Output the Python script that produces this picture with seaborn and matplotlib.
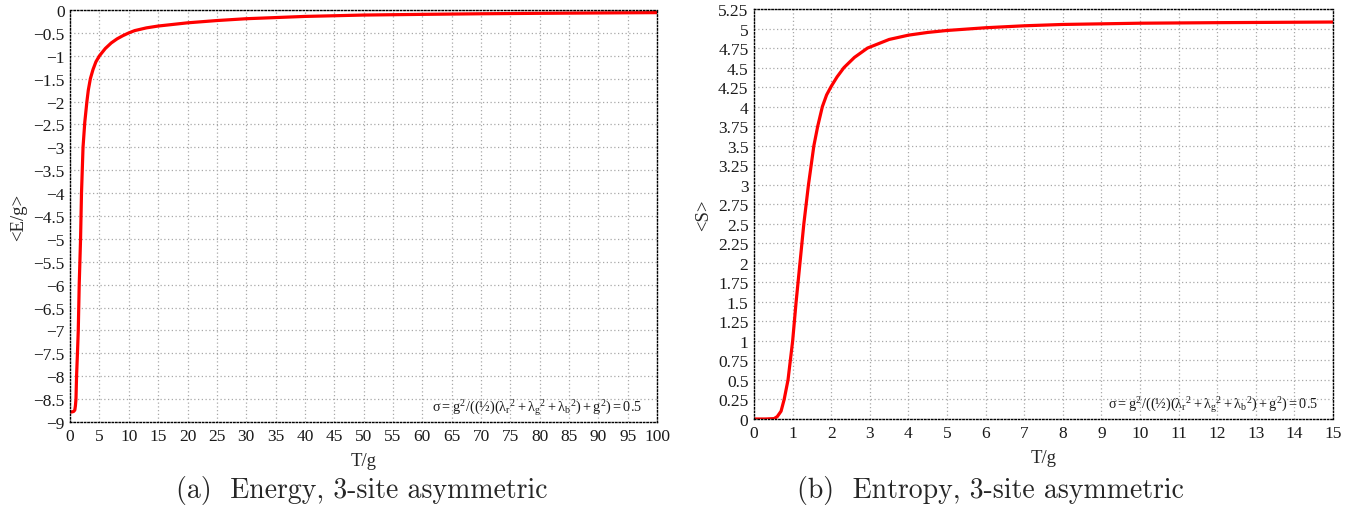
import numpy as np
import pandas as pd
import matplotlib
matplotlib.use("Agg")
import matplotlib.pyplot as plt
import seaborn as sns

# Mean energy vs temperature (3-site asymmetric)
t_energy = [0, 0.3, 0.6, 0.8, 0.9, 1.0, 1.1, 1.25, 1.39, 1.55, 1.78, 1.94, 2.2, 2.5,
            2.86, 3.1, 3.45, 3.9, 4.4, 5.0, 6, 7, 8, 9, 10, 11, 13, 15, 20, 25,
            30, 40, 50, 60, 70, 80, 90, 100]
e_energy = [-8.78, -8.78, -8.77, -8.74, -8.65, -8.5, -8.0, -7.5, -7.0, -6.0, -5.0,
            -4.0, -3.0, -2.45, -2.0, -1.75, -1.5, -1.3, -1.13, -1.0, -0.84, -0.72,
            -0.63, -0.56, -0.5, -0.45, -0.39, -0.35, -0.28, -0.23, -0.19, -0.14,
            -0.11, -0.095, -0.082, -0.072, -0.064, -0.057]

# Mean entropy vs temperature (3-site asymmetric)
t_entropy = [0, 0.3, 0.52, 0.6, 0.7, 0.78, 0.88, 0.94, 1.0, 1.09, 1.19, 1.29, 1.41,
             1.55, 1.65, 1.77, 1.88, 2.0, 2.15, 2.33, 2.6, 2.94, 3.5, 4, 4.5, 5, 6,
             7, 8, 10, 12, 15]
s_entropy = [0, 0, 0.005, 0.03, 0.1, 0.25, 0.5, 0.75, 1.0, 1.5, 2.0, 2.5, 3.0, 3.5,
             3.75, 4.0, 4.15, 4.26, 4.38, 4.5, 4.63, 4.75, 4.86, 4.915, 4.95, 4.975,
             5.01, 5.035, 5.052, 5.068, 5.075, 5.083]

energy_xticks = list(range(0, 101, 5))
energy_yticks = [-9 + 0.5 * i for i in range(19)]
entropy_xticks = list(range(0, 16))
entropy_yticks = [0.25 * i for i in range(22)]

annotation = r"$σ = g^2/((½)(λ_r{}^2 + λ_g{}^2 + λ_b{}^2) + g^2) = 0.5$"
captions = ["(a)  Energy, 3-site asymmetric", "(b)  Entropy, 3-site asymmetric"]

sns.set_style("white")
plt.rcParams["font.family"] = ["Liberation Serif", "DejaVu Serif"]
plt.rcParams["mathtext.fontset"] = "custom"
plt.rcParams["mathtext.rm"] = "Liberation Serif"
plt.rcParams["mathtext.it"] = "Liberation Serif"
plt.rcParams["axes.unicode_minus"] = True

fig = plt.figure(figsize=(13.72, 5.10), dpi=100)
ax1 = fig.add_axes([0.0511, 0.1706, 0.4279, 0.8078])
ax2 = fig.add_axes([0.5496, 0.1765, 0.4220, 0.8039])


def fmt(v):
    s = f"{v:g}"
    return s.replace("-", "\u2212")


def style(ax, xt, yt, xlim, ylim):
    ax.set_xlim(*xlim)
    ax.set_ylim(*ylim)
    ax.set_xticks(xt)
    ax.set_yticks(yt)
    ax.set_xticklabels([fmt(v) for v in xt], fontsize=12.5)
    ax.set_yticklabels([fmt(v) for v in yt], fontsize=12.5)
    ax.grid(True, color="#a8a8a8", linestyle=(0, (1, 2)), linewidth=0.9)
    for sp in ax.spines.values():
        sp.set_visible(True)
        sp.set_color("black")
        sp.set_linestyle((0, (1, 1.5)))
        sp.set_linewidth(1.0)
    ax.tick_params(direction="in", length=3, width=0.8, color="black",
                   labelcolor="#1a1a1a", pad=4)
    ax.set_axisbelow(True)


df_e = pd.DataFrame({"T": t_energy, "E": e_energy})
df_s = pd.DataFrame({"T": t_entropy, "S": s_entropy})

sns.lineplot(data=df_e, x="T", y="E", ax=ax1, color="#ff0000", linewidth=2.3,
             estimator=None, sort=False)
sns.lineplot(data=df_s, x="T", y="S", ax=ax2, color="#ff0000", linewidth=2.3,
             estimator=None, sort=False)

style(ax1, energy_xticks, energy_yticks, (0, 100), (-9, 0))
style(ax2, entropy_xticks, entropy_yticks, (0, 15), (0, 5.25))

ax1.set_xlabel("T/g", fontsize=13.5, labelpad=6)
ax1.set_ylabel("<E/g>", fontsize=13.5, labelpad=4)
ax2.set_xlabel("T/g", fontsize=13.5, labelpad=6)
ax2.set_ylabel("<S>", fontsize=13.5, labelpad=4)

for ax in (ax1, ax2):
    ax.text(0.974, 0.012, annotation, transform=ax.transAxes, ha="right",
            va="bottom", fontsize=10.3, color="#1a1a1a")

fig.text(0.264, 0.038, captions[0], ha="center", va="center", fontsize=20,
         family="cmr10")
fig.text(0.7216, 0.038, captions[1], ha="center", va="center", fontsize=20,
         family="cmr10")

fig.savefig("out.png", dpi=100)
